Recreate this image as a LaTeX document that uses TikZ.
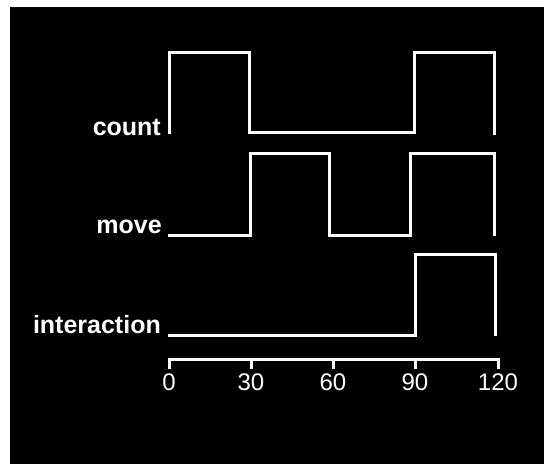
\documentclass[tikz,border=0pt]{standalone}
\usepackage{fontspec}
\setmainfont{Liberation Sans}
\begin{document}
\begin{tikzpicture}[x=1pt,y=-1pt,
  sig/.style={draw=white,line width=3pt,line cap=butt,line join=miter},
  lbl/.style={text=white,font=\fontsize{25}{28}\selectfont\bfseries,anchor=base east,inner sep=0pt},
  num/.style={text=white,font=\fontsize{24}{27}\selectfont,anchor=base,inner sep=0pt}]
\useasboundingbox (0,0) rectangle (544,464);
\fill[white] (0,0) rectangle (544,464);
\fill[black] (10,7) rectangle (544,464);
% count
\draw[sig] (169,134) -- (169,52) -- (249,52) -- (249,132) -- (414,132) -- (414,52) -- (494,52) -- (494,135);
% move
\draw[sig] (168,235) -- (250,235) -- (250,153) -- (329,153) -- (329,235) -- (410,235) -- (410,153) -- (494,153) -- (494,236);
% interaction
\draw[sig] (168,335) -- (415,335) -- (415,254) -- (495,254) -- (495,336);
% axis
\draw[sig] (169,369) -- (169,359) -- (498,359) -- (498,369);
\foreach \x in {251,333,415} \draw[sig] (\x,359) -- (\x,369);
\node[lbl] (lc) at (161,135) {count};
\node[lbl] (lm) at (162,233) {move};
\node[lbl] (li) at (161,333) {interaction};
\node[num] (n0) at (169,390) {0};
\node[num] (n30) at (251,390) {30};
\node[num] (n60) at (333,390) {60};
\node[num] (n90) at (415,390) {90};
\node[num] (n120) at (498,390) {120};
\end{tikzpicture}
\end{document}
